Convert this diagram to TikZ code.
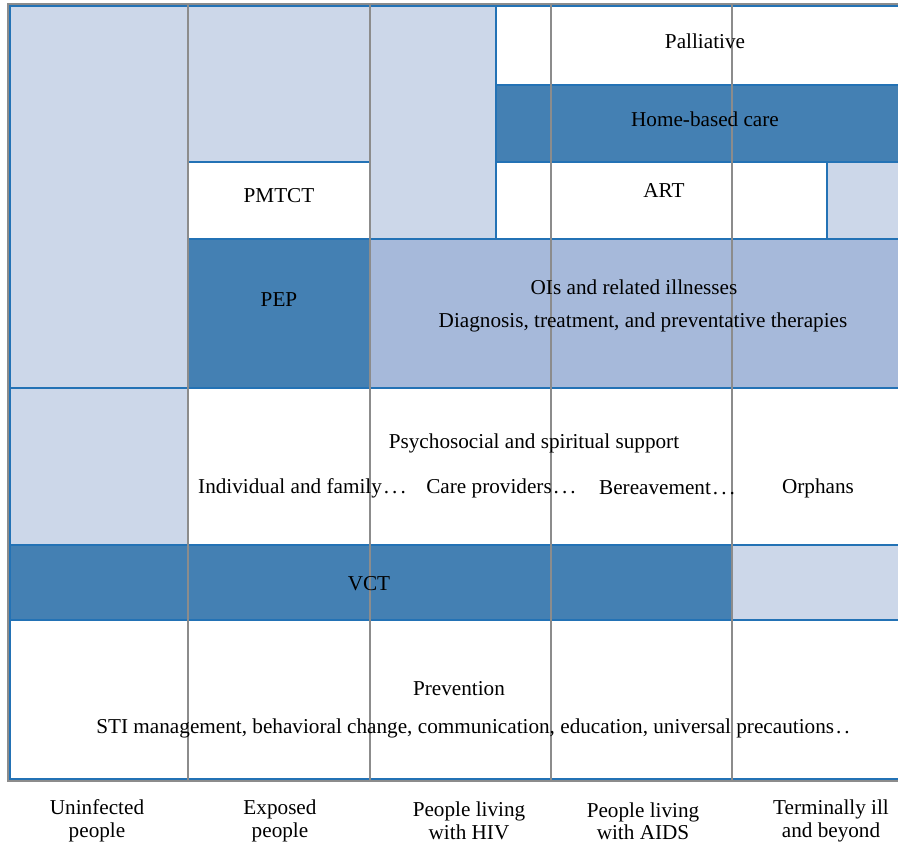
\documentclass[tikz,border=0pt]{standalone}
\usepackage{fontspec}
\setmainfont{Liberation Serif}
\definecolor{lightc}{HTML}{CCD7E9}
\definecolor{darkc}{HTML}{4480B3}
\definecolor{midc}{HTML}{A6B9DA}
\definecolor{edgec}{HTML}{2372B5}
\definecolor{gridc}{HTML}{8C8C8C}
\newcommand\cellat[6]{\node[cell,fill=#2,minimum width={(#5-#3)*1pt},minimum height={(#6-#4)*1pt}] (#1) at (#3,#4) {};}
\newcommand\mydots{\kern2pt.\kern3pt.\kern3pt.}
\begin{document}
\begin{tikzpicture}[x=1pt,y=-1pt,
  cell/.style={draw=edgec, line width=1.3pt, inner sep=0pt, outer sep=0pt, anchor=north west, rectangle},
  lbl/.style={font=\fontsize{21.2}{22.5}\selectfont, text=black, inner sep=0pt, align=center},
  gridline/.style={draw=gridc, line width=1.3pt}]
\useasboundingbox (0,0) rectangle (898,843);
\begin{scope}
\clip (0,0) rectangle (898,843);
\fill[white] (0,0) rectangle (898,843);
\draw[gridline] (8,4) rectangle (930,781);
\cellat{un1}{lightc}{10}{6}{188}{388}
\cellat{ex1}{lightc}{188}{6}{370}{162}
\cellat{pmtct}{white}{188}{162}{370}{239}
\cellat{pep}{darkc}{188}{239}{370}{388}
\cellat{hiv1}{lightc}{370}{6}{496}{239}
\cellat{pal}{white}{496}{6}{920}{85}
\cellat{hbc}{darkc}{496}{85}{920}{162}
\cellat{art}{white}{496}{162}{827}{239}
\cellat{art2}{lightc}{827}{162}{920}{239}
\cellat{ois}{midc}{370}{239}{920}{388}
\cellat{un2}{lightc}{10}{388}{188}{545}
\cellat{psy}{white}{188}{388}{920}{545}
\cellat{vct}{darkc}{10}{545}{732}{620}
\cellat{vct2}{lightc}{732}{545}{920}{620}
\cellat{prev}{white}{10}{620}{920}{779}
\coordinate (g1t) at (188,4); \coordinate (g1b) at (188,781);
\coordinate (g2t) at (370,4); \coordinate (g2b) at (370,781);
\coordinate (g3t) at (551,4); \coordinate (g3b) at (551,781);
\coordinate (g4t) at (732,4); \coordinate (g4b) at (732,781);
\draw[gridline] (g1t) -- (g1b);
\draw[gridline] (g2t) -- (g2b);
\draw[gridline] (g3t) -- (g3b);
\draw[gridline] (g4t) -- (g4b);
\end{scope}
\node[lbl] (tpal) at (705,41) {Palliative};
\node[lbl] (thbc) at (705,119) {Home-based care};
\node[lbl] (tart) at (664,191) {ART};
\node[lbl] (tpmtct) at (279,196) {PMTCT};
\node[lbl] (tpep) at (279,300) {PEP};
\node[lbl] (tois1) at (634,287) {OIs and related illnesses};
\node[lbl] (tois2) at (643,322) {Diagnosis, treatment, and preventative therapies};
\node[lbl] (tpsy) at (534,443) {Psychosocial and spiritual support};
\node[lbl] (tind) at (302,488) {Individual and family\mydots};
\node[lbl] (tcare) at (501,488) {Care providers\mydots};
\node[lbl] (tber) at (667,488) {Bereavement\mydots};
\node[lbl] (torph) at (818,488) {Orphans};
\node[lbl] (tvct) at (369,584) {VCT};
\node[lbl] (tprev) at (459,689) {Prevention};
\node[lbl] (tsti) at (473,728) {STI management, behavioral change, communication, education, universal precautions\kern2pt.\kern3pt.};
\node[lbl] (c1) at (97,821) {Uninfected\\people};
\node[lbl] (c2) at (280,821) {Exposed\\people};
\node[lbl] (c3) at (469,821) {People living\\with HIV};
\node[lbl] (c4) at (643,821) {People living\\with AIDS};
\node[lbl] (c5) at (831,821) {Terminally ill\\and beyond};
\end{tikzpicture}
\end{document}
